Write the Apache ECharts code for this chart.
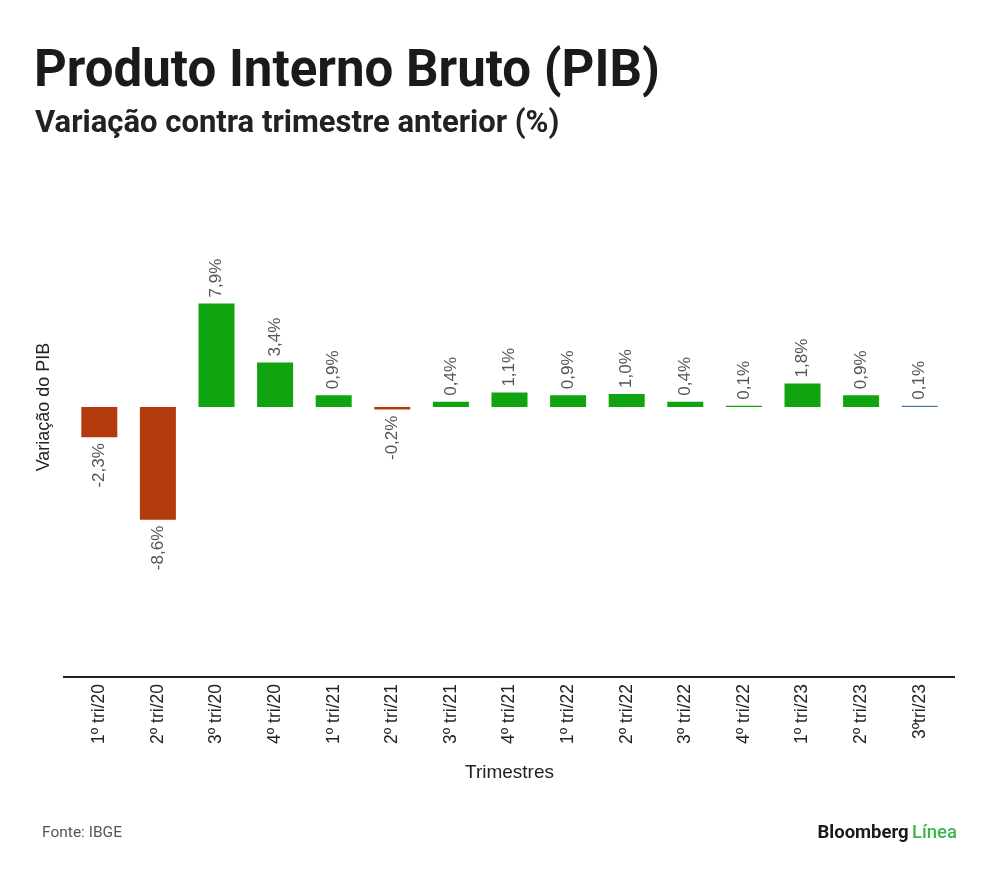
<!DOCTYPE html>
<html>
<head>
<meta charset="utf-8">
<script src="https://cdn.jsdelivr.net/npm/echarts@6/dist/echarts.min.js"></script>
<style>
  html, body { margin: 0; padding: 0; background: #fff; }
  #chart { width: 1000px; height: 880px; }
</style>
</head>
<body>
<div id="chart"></div>
<script>
// 季度 / 数值
const trimestres = ['1º tri/20', '2º tri/20', '3º tri/20', '4º tri/20', '1º tri/21', '2º tri/21', '3º tri/21', '4º tri/21',
  '1º tri/22', '2º tri/22', '3º tri/22', '4º tri/22', '1º tri/23', '2º tri/23', '3ºtri/23']
const variacao = [-2.3, -8.6, 7.9, 3.4, 0.9, -0.2, 0.4, 1.1, 0.9, 1.0, 0.4, 0.1, 1.8, 0.9, 0.1]

const myChart = echarts.init(document.querySelector('#chart'))

const option = {
  backgroundColor: '#fff',
  title: [
    {
      text: 'Produto Interno Bruto (PIB)',
      left: 29,
      top: 43,
      textStyle: {
        fontFamily: 'Roboto',
        fontWeight: 'bold',
        fontSize: 51,
        color: '#1a1a1a'
      }
    },
    {
      text: 'Variação contra trimestre anterior (%)',
      left: 30,
      top: 104,
      textStyle: {
        fontFamily: 'Roboto',
        fontWeight: 'bold',
        fontSize: 31,
        color: '#222'
      }
    }
  ],
  grid: {
    left: 70,
    right: 51,
    top: 137,
    bottom: 203
  },
  xAxis: {
    type: 'category',
    data: trimestres,
    name: 'Trimestres',
    nameLocation: 'middle',
    nameGap: 86,
    nameTextStyle: {
      fontFamily: 'Liberation Sans',
      fontSize: 19,
      color: '#222'
    },
    axisLine: { show: false },
    axisTick: { show: false },
    axisLabel: {
      rotate: 90,
      interval: 0,
      margin: 7,
      fontFamily: 'Liberation Sans',
      fontSize: 17.5,
      color: '#222'
    }
  },
  yAxis: {
    type: 'value',
    min: -20.6,
    max: 20.6,
    name: 'Variação do PIB',
    nameLocation: 'middle',
    nameGap: 17,
    nameTextStyle: {
      fontFamily: 'Liberation Sans',
      fontSize: 18,
      color: '#222'
    },
    axisLine: { show: false },
    axisTick: { show: false },
    axisLabel: { show: false },
    splitLine: { show: false }
  },
  series: [
    {
      type: 'bar',
      data: variacao.map(v => ({
        value: v,
        label: v < 0
          ? { position: 'bottom', align: 'right' }
          : { position: 'top', align: 'left' }
      })),
      barWidth: 36,
      itemStyle: {
        color: p => {
          if (p.dataIndex === trimestres.length - 1) return '#4d7ea8'
          return p.value < 0 ? '#b23a0c' : '#10a410'
        }
      },
      label: {
        show: true,
        rotate: 90,
        verticalAlign: 'middle',
        distance: 6,
        fontFamily: 'Liberation Sans',
        fontSize: 17,
        color: '#555',
        formatter: p => p.value.toFixed(1).replace('.', ',') + '%'
      }
    }
  ],
  graphic: [
    {
      // 底部横线，比类目区两侧略长
      type: 'line',
      shape: { x1: 63, y1: 677, x2: 955, y2: 677 },
      style: { stroke: '#222', lineWidth: 2 }
    },
    {
      type: 'text',
      left: 42,
      top: 825,
      style: {
        text: 'Fonte: IBGE',
        fontFamily: 'Roboto',
        fontSize: 15.5,
        fill: '#555'
      }
    },
    {
      type: 'text',
      right: 43,
      top: 824,
      style: {
        text: '{a|Bloomberg} {b|Línea}',
        rich: {
          a: { fontFamily: 'Roboto', fontWeight: 'bold', fontSize: 18.5, fill: '#1a1a1a' },
          b: { fontFamily: 'Roboto', fontWeight: 500, fontSize: 18.5, fill: '#3bb54a' }
        }
      }
    }
  ]
}

myChart.setOption(option)
</script>
</body>
</html>
